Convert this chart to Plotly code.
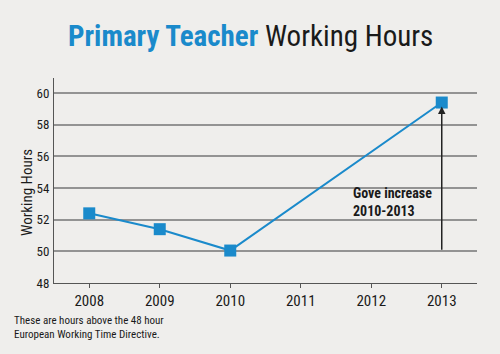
import plotly.graph_objects as go

years = [2008, 2009, 2010, 2013]
hours = [52.4, 51.4, 50.05, 59.4]
x_ticks = [2008, 2009, 2010, 2011, 2012, 2013]
y_ticks = [48, 50, 52, 54, 56, 58, 60]
arrow_year = 2013
arrow_from = 50
arrow_to = 59.4
note_lines = ["Gove increase", "2010-2013"]
foot_lines = ["These are hours above the 48 hour", "European Working Time Directive."]

BG = "#efeeec"
BLUE = "#1a8acb"
NARROW = "Liberation Sans Narrow, Arial Narrow, Roboto Condensed, sans-serif"

W, H = 500, 354
L, R, T, B = 54, 23, 78, 71
pw, ph = W - L - R, H - T - B

def px_x(x):
    return (x - L) / pw

def px_y(y):
    return (H - B - y) / ph

fig = go.Figure()
fig.add_trace(go.Scatter(
    x=years, y=hours, mode="lines+markers",
    line=dict(color=BLUE, width=2),
    marker=dict(symbol="square", size=12, color=BLUE),
    showlegend=False, hoverinfo="skip",
))

fig.add_annotation(
    x=arrow_year, y=arrow_to - 0.25, ax=arrow_year, ay=arrow_from,
    xref="x", yref="y", axref="x", ayref="y",
    showarrow=True, arrowhead=2, arrowsize=1, arrowwidth=1.5, arrowcolor="#222222",
    text="",
)
fig.add_annotation(
    x=px_x(351), y=px_y(201.5), xref="paper", yref="paper",
    xanchor="left", yanchor="middle", align="left", showarrow=False,
    text="<b>" + "<br>".join(note_lines) + "</b>",
    font=dict(family=NARROW, size=14, color="#1a1a1a"),
)

fig.add_annotation(
    x=px_x(250), y=px_y(36), xref="paper", yref="paper", showarrow=False, yanchor="middle",
    text="<b><span style='color:%s'>Primary Teacher</span></b> Working Hours" % BLUE,
    font=dict(family=NARROW, size=29, color="#1a1a1a"),
)

fig.add_annotation(
    x=px_x(12), y=px_y(327.5), xref="paper", yref="paper",
    showarrow=False, xanchor="left", yanchor="middle", align="left",
    text="<br>".join(foot_lines), font=dict(family=NARROW, size=11, color="#1a1a1a"),
)

# y-axis title placed as a rotated annotation
fig.add_annotation(
    x=px_x(27), y=px_y(193), xref="paper", yref="paper",
    showarrow=False, xanchor="center", yanchor="middle", textangle=-90,
    text="Working Hours", font=dict(family=NARROW, size=15, color="#1a1a1a"),
)

fig.update_layout(
    width=W, height=H,
    margin=dict(l=L, r=R, t=T, b=B),
    paper_bgcolor=BG, plot_bgcolor=BG,
    font=dict(family=NARROW, color="#1a1a1a"),
    xaxis=dict(
        range=[2007.5, 2013.5], tickvals=x_ticks, ticktext=[str(v) for v in x_ticks],
        showgrid=False, zeroline=False, showline=True, linecolor="#555555", linewidth=1,
        ticks="outside", ticklen=4, tickcolor="#555555",
        tickfont=dict(family=NARROW, size=15, color="#1a1a1a"),
    ),
    yaxis=dict(
        range=[48, 60.95], tickvals=y_ticks,
        showgrid=True, gridcolor="#939393", gridwidth=1.6, zeroline=False,
        showline=True, linecolor="#555555", linewidth=1,
        ticks="", ticklabelstandoff=1,
        tickfont=dict(family=NARROW, size=13, color="#1a1a1a"),
    ),
)

fig.write_html("out.html")
